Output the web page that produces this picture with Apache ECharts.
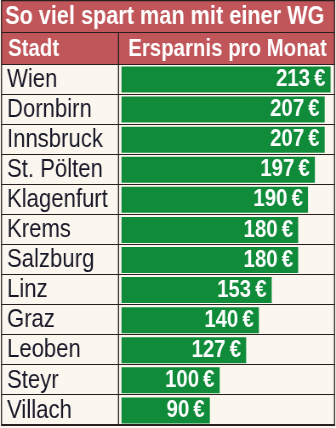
<!DOCTYPE html>
<html>
<head>
<meta charset="utf-8">
<style>
  html, body { margin: 0; padding: 0; background: #fbf7ef; overflow: hidden; }
  /* the chart is laid out wider and squeezed horizontally to get condensed lettering */
  #chart { width: 395px; height: 428px; transform: scaleX(0.85063); transform-origin: 0 0; }
</style>
<script src="https://cdn.jsdelivr.net/npm/echarts@6/dist/echarts.min.js"></script>
</head>
<body>
<div id="chart"></div>
<script>
// Monthly savings when sharing a flat (WG), by city
const titleText = 'So viel spart man mit einer WG';
const colCity = 'Stadt';
const colSaving = 'Ersparnis pro Monat';
const cities = ['Wien', 'Dornbirn', 'Innsbruck', 'St. Pölten', 'Klagenfurt', 'Krems',
                'Salzburg', 'Linz', 'Graz', 'Leoben', 'Steyr', 'Villach'];
const savings = [213, 207, 207, 197, 190, 180, 180, 153, 140, 127, 100, 90];

// horizontal squeeze factor (see CSS); x positions below are given in screen pixels
const S = 336 / 395;
const X = v => v / S;

// table layout
const frameL = 1.5, frameR = 334.5;
const titleTop = 0.5, titleBottom = 32.5, headBottom = 64.5;
const rowH = 30.08;
const bodyBottom = headBottom + rowH * cities.length;
const divX = 118.5;
const barLeft = 121.5;

const RED = '#c1565a';
const GREEN = '#0f8b3a';
const LINE = '#2a1e1e';
const FONT = '"Liberation Sans", Arial, sans-serif';

const chart = echarts.init(document.getElementById('chart'), null, { renderer: 'canvas' });

const graphics = [
  // title + header background
  { type: 'rect', shape: { x: X(frameL), y: titleTop, width: X(frameR - frameL), height: headBottom - titleTop },
    style: { fill: RED }, z: 0 },
  { type: 'text', x: X(5), y: titleTop + 16.5,
    style: { text: titleText, fill: '#fff', font: 'bold 25.5px ' + FONT, verticalAlign: 'middle' }, z: 5 },
  { type: 'text', x: X(8), y: titleBottom + 16.5,
    style: { text: colCity, fill: '#fff', font: 'bold 24px ' + FONT, verticalAlign: 'middle' }, z: 5 },
  { type: 'text', x: X((divX + frameR) / 2 + 1), y: titleBottom + 16.5,
    style: { text: colSaving, fill: '#fff', font: 'bold 24px ' + FONT, align: 'center', verticalAlign: 'middle' }, z: 5 },
  // frame
  { type: 'rect', shape: { x: X(frameL), y: titleTop, width: X(frameR - frameL), height: bodyBottom - titleTop },
    style: { fill: null, stroke: LINE, lineWidth: 1.3 }, z: 10 },
  { type: 'line', shape: { x1: X(frameL), y1: titleBottom, x2: X(frameR), y2: titleBottom },
    style: { stroke: LINE, lineWidth: 1.2 }, z: 10 },
  { type: 'line', shape: { x1: X(divX), y1: titleBottom, x2: X(divX), y2: bodyBottom },
    style: { stroke: LINE, lineWidth: 1.3 }, z: 10 }
];
// row separators
for (let i = 0; i <= cities.length; i++) {
  const y = Math.round(headBottom + rowH * i) - 0.5;
  graphics.push({ type: 'line', shape: { x1: X(frameL), y1: y, x2: X(frameR), y2: y },
    style: { stroke: LINE, lineWidth: 1.2 }, z: 10 });
}

chart.setOption({
  backgroundColor: '#fbf7ef',
  animation: false,
  grid: { left: X(barLeft), top: headBottom, width: X(212), height: rowH * cities.length },
  xAxis: { type: 'value', min: 0, max: 216, show: false },
  yAxis: {
    type: 'category', data: cities, inverse: true,
    axisLine: { show: false }, axisTick: { show: false }, splitLine: { show: false },
    axisLabel: { interval: 0, align: 'left', margin: X(barLeft - 7), color: '#181828',
                 fontFamily: FONT, fontSize: 26 }
  },
  series: [{
    type: 'bar', data: savings, barWidth: 26,
    itemStyle: { color: GREEN },
    label: { show: true, position: 'insideRight', distance: 6,
             formatter: p => p.value + '\u2009€', color: '#fff',
             fontFamily: FONT, fontWeight: 'bold', fontSize: 24 }
  }],
  graphic: graphics
});
</script>
</body>
</html>
